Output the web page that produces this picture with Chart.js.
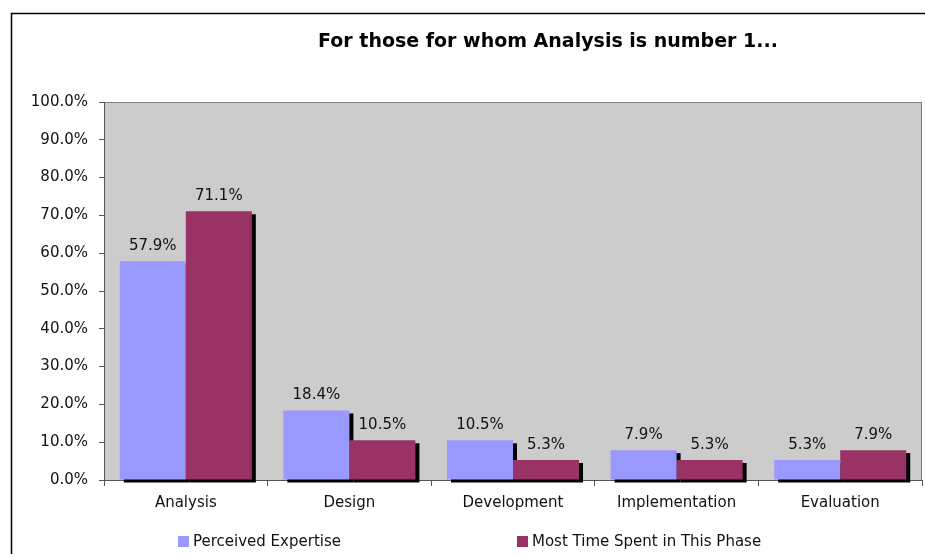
<!DOCTYPE html>
<html>
<head>
<meta charset="utf-8">
<title>For those for whom Analysis is number 1...</title>
<script src="https://cdn.jsdelivr.net/npm/chart.js@4.4.1/dist/chart.umd.min.js"></script>
<style>
  html, body { margin: 0; padding: 0; background: #fff; }
  canvas { display: block; }
</style>
</head>
<body>
<canvas id="chart" width="925" height="554"></canvas>
<script>
const chartTitle = 'For those for whom Analysis is number 1...';
const phases = ['Analysis', 'Design', 'Development', 'Implementation', 'Evaluation'];
const perceivedExpertise = [57.9, 18.4, 10.5, 7.9, 5.3];
const mostTimeSpent = [71.1, 10.5, 5.3, 5.3, 7.9];
const seriesNames = ['Perceived Expertise', 'Most Time Spent in This Phase'];
const seriesColors = ['#9999ff', '#993366'];

const FONT = '"DejaVu Sans", Verdana, sans-serif';
const pct = v => v.toFixed(1) + '%';

// frame, plot background, bar shadows, value labels, title and legend
const excelLook = {
  id: 'excelLook',
  beforeDraw(chart) {
    const { ctx, chartArea: a } = chart;
    ctx.save();
    ctx.strokeStyle = '#000';
    ctx.lineWidth = 1.5;
    ctx.beginPath();
    ctx.moveTo(11.5, 554);
    ctx.lineTo(11.5, 13.5);
    ctx.lineTo(925, 13.5);
    ctx.stroke();

    ctx.fillStyle = '#cccccc';
    ctx.fillRect(a.left, a.top, a.right - a.left, a.bottom - a.top);
    ctx.strokeStyle = '#808080';
    ctx.lineWidth = 1;
    ctx.strokeRect(a.left + 0.5, a.top + 0.5, a.right - a.left - 1, a.bottom - a.top);

    ctx.fillStyle = '#000';
    ctx.font = 'bold 19px ' + FONT;
    ctx.textAlign = 'center';
    ctx.textBaseline = 'middle';
    ctx.fillText(chartTitle, 548, 42);
    ctx.restore();
  },
  beforeDatasetsDraw(chart) {
    const { ctx } = chart;
    ctx.save();
    ctx.fillStyle = '#000';
    chart.data.datasets.forEach((ds, i) => {
      chart.getDatasetMeta(i).data.forEach(bar => {
        const p = bar.getProps(['x', 'y', 'base', 'width'], true);
        ctx.fillRect(p.x - p.width / 2 + 4, p.y + 3, p.width, p.base - p.y);
      });
    });
    ctx.restore();
  },
  afterDatasetsDraw(chart) {
    const { ctx } = chart;
    ctx.save();
    ctx.fillStyle = '#111';
    ctx.font = '15px ' + FONT;
    ctx.textAlign = 'center';
    ctx.textBaseline = 'middle';
    chart.data.datasets.forEach((ds, i) => {
      chart.getDatasetMeta(i).data.forEach((bar, j) => {
        const p = bar.getProps(['x', 'y'], true);
        ctx.fillText(pct(ds.data[j]), p.x, p.y - 15);
      });
    });

    // legend
    const legendX = [178, 517];
    chart.data.datasets.forEach((ds, i) => {
      ctx.fillStyle = ds.backgroundColor;
      ctx.fillRect(legendX[i], 536, 11, 11);
      ctx.fillStyle = '#111';
      ctx.textAlign = 'left';
      ctx.fillText(ds.label, legendX[i] + 15, 542);
    });
    ctx.restore();
  }
};

new Chart(document.getElementById('chart'), {
  type: 'bar',
  data: {
    labels: phases,
    datasets: [
      {
        label: seriesNames[0],
        data: perceivedExpertise,
        backgroundColor: seriesColors[0],
        clip: false
      },
      {
        label: seriesNames[1],
        data: mostTimeSpent,
        backgroundColor: seriesColors[1],
        clip: false
      }
    ]
  },
  options: {
    responsive: false,
    animation: false,
    events: [],
    layout: { padding: { left: 0, right: 3, top: 102, bottom: 0 } },
    datasets: {
      bar: { categoryPercentage: 0.807, barPercentage: 1.0 }
    },
    plugins: {
      legend: { display: false },
      title: { display: false },
      tooltip: { enabled: false }
    },
    scales: {
      x: {
        offset: true,
        grid: {
          display: true,
          offset: true,
          drawOnChartArea: false,
          color: '#555',
          tickLength: 6
        },
        border: { display: true, color: '#555' },
        ticks: {
          color: '#111',
          padding: 8,
          font: { family: FONT, size: 15 }
        },
        afterFit(scale) { scale.height = 74; }
      },
      y: {
        min: 0,
        max: 100,
        grid: {
          display: true,
          drawOnChartArea: false,
          color: '#555',
          tickLength: 5
        },
        border: { display: true, color: '#555' },
        ticks: {
          stepSize: 10,
          color: '#111',
          padding: 11,
          font: { family: FONT, size: 15 },
          callback: v => pct(v)
        },
        afterFit(scale) { scale.width = 104; }
      }
    }
  },
  plugins: [excelLook]
});
</script>
</body>
</html>
